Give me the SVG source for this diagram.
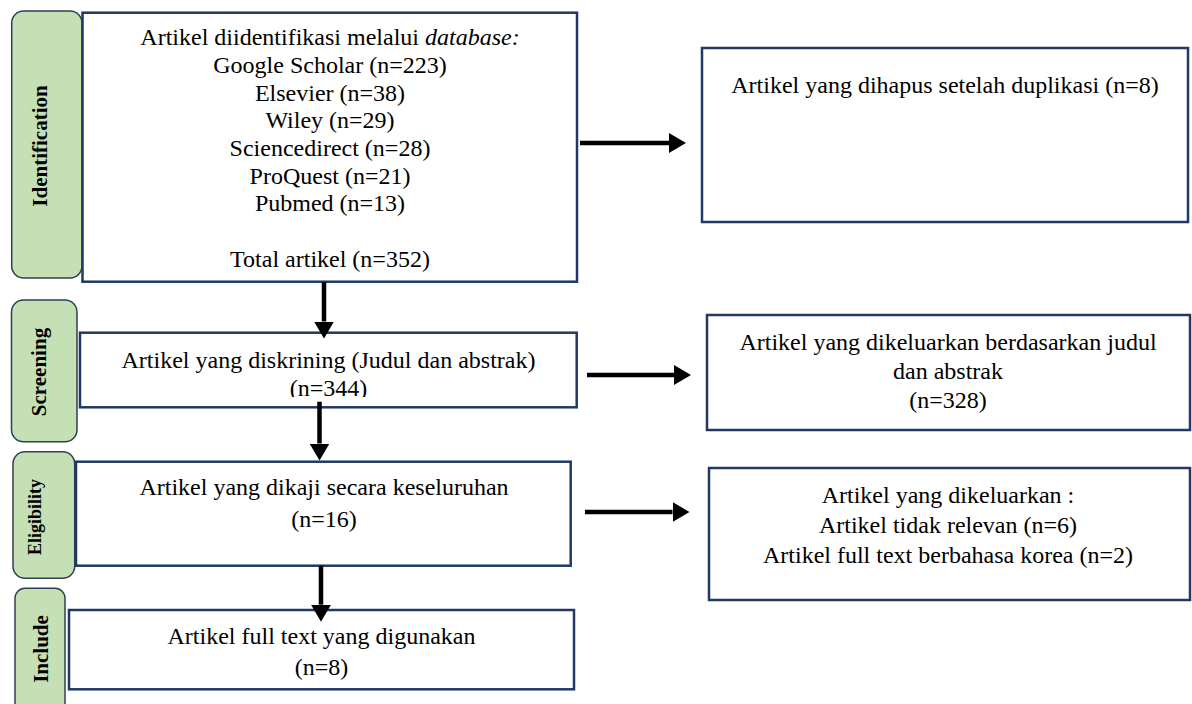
<svg xmlns="http://www.w3.org/2000/svg" width="1192" height="704" viewBox="0 0 1192 704">
<style>
.tab{fill:#c5e0b4;stroke:#2f4050;stroke-width:1.5}
.box{fill:#ffffff;stroke:#1f3864;stroke-width:2.5}
.t{font-family:"Liberation Serif","Times New Roman",serif;font-size:24px;fill:#000;text-anchor:middle}
.lbl{font-family:"Liberation Serif","Times New Roman",serif;font-weight:bold;font-size:21px;fill:#000;text-anchor:middle}
.conn{stroke:#000;stroke-width:4.5;fill:none}
</style>
<defs>
<marker id="ah" markerUnits="userSpaceOnUse" markerWidth="17" markerHeight="20" refX="0" refY="10" orient="auto">
<path d="M0,0 L17,10 L0,20 Z" fill="#000"/>
</marker>
<clipPath id="clipScr"><rect x="80" y="332" width="497" height="65"/></clipPath>
</defs>

<g id="tab-identification">
<rect class="tab" x="11.7" y="11" width="70.3" height="267" rx="12"/>
<text class="lbl" transform="translate(47,146) rotate(-90)">Identification</text>
</g>
<g id="tab-screening">
<rect class="tab" x="11.5" y="300" width="65.5" height="141.7" rx="12"/>
<text class="lbl" transform="translate(45.5,372) rotate(-90)">Screening</text>
</g>
<g id="tab-eligibility">
<rect class="tab" x="13" y="451.7" width="61.7" height="126.6" rx="12"/>
<text class="lbl" style="font-size:18px" transform="translate(40.5,517) rotate(-90)">Eligibility</text>
</g>
<g id="tab-include">
<rect class="tab" x="15" y="588.3" width="50" height="130" rx="10"/>
<text class="lbl" transform="translate(47.5,649) rotate(-90)">Include</text>
</g>

<g id="box-identified">
<rect class="box" x="82.5" y="12.7" width="494.5" height="269"/>
<text class="t" x="330" y="45">Artikel diidentifikasi melalui <tspan font-style="italic">database:</tspan></text>
<text class="t" x="330" y="73">Google Scholar (n=223)</text>
<text class="t" x="330" y="100.7">Elsevier (n=38)</text>
<text class="t" x="330" y="128.3">Wiley (n=29)</text>
<text class="t" x="330" y="156">Sciencedirect (n=28)</text>
<text class="t" x="330" y="183.6">ProQuest (n=21)</text>
<text class="t" x="330" y="211.3">Pubmed (n=13)</text>
<text class="t" x="330" y="266.7">Total artikel (n=352)</text>
</g>

<g id="box-duplicates">
<rect class="box" x="702" y="48" width="486" height="174"/>
<text class="t" x="945" y="93">Artikel yang dihapus setelah duplikasi (n=8)</text>
</g>

<g id="box-screening">
<rect class="box" x="80" y="332.7" width="496.7" height="74.6"/>
<g clip-path="url(#clipScr)">
<text class="t" x="328.5" y="368">Artikel yang diskrining (Judul dan abstrak)</text>
<text class="t" x="328.5" y="396">(n=344)</text>
</g>
</g>

<g id="box-excluded-title">
<rect class="box" x="707" y="315" width="483" height="115"/>
<text class="t" x="948" y="350">Artikel yang dikeluarkan berdasarkan judul</text>
<text class="t" x="948" y="379">dan abstrak</text>
<text class="t" x="948" y="408">(n=328)</text>
</g>

<g id="box-eligibility">
<rect class="box" x="76" y="461.7" width="494.7" height="104"/>
<text class="t" x="324" y="495">Artikel yang dikaji secara keseluruhan</text>
<text class="t" x="324" y="527.3">(n=16)</text>
</g>

<g id="box-excluded-full">
<rect class="box" x="709" y="468" width="481" height="132"/>
<text class="t" x="948" y="503">Artikel yang dikeluarkan :</text>
<text class="t" x="948" y="533">Artikel tidak relevan (n=6)</text>
<text class="t" x="948" y="563">Artikel full text berbahasa korea (n=2)</text>
</g>

<g id="box-included">
<rect class="box" x="69" y="610" width="505" height="79.3"/>
<text class="t" x="321.5" y="644.3">Artikel full text yang digunakan</text>
<text class="t" x="321.5" y="675">(n=8)</text>
</g>

<g id="connectors">
<line class="conn" x1="324" y1="282" x2="324" y2="321.5" marker-end="url(#ah)"/>
<line class="conn" x1="319.5" y1="401.7" x2="319.5" y2="443.5" marker-end="url(#ah)"/>
<line class="conn" x1="321" y1="565.7" x2="321" y2="604.7" marker-end="url(#ah)"/>
<line class="conn" x1="580" y1="143" x2="669" y2="143" marker-end="url(#ah)"/>
<line class="conn" x1="587" y1="375" x2="674" y2="375" marker-end="url(#ah)"/>
<line class="conn" x1="585" y1="512" x2="672.5" y2="512" marker-end="url(#ah)"/>
</g>
</svg>
